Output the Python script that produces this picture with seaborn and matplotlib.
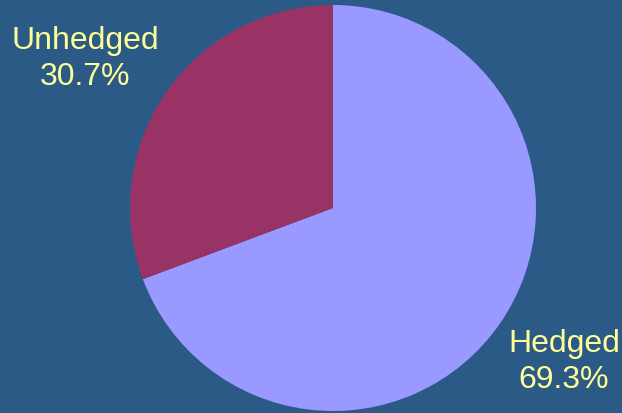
import matplotlib
matplotlib.use("Agg")
import matplotlib.pyplot as plt
import seaborn as sns

categories = ["Hedged", "Unhedged"]
shares = [69.3, 30.7]
colors = ["#9999FF", "#993366"]

sns.set_theme(style="white")
plt.rcParams['font.family'] = ['Liberation Sans', 'DejaVu Sans']

W, H = 622, 413
bg = "#2C5A86"
fig = plt.figure(figsize=(W / 100, H / 100), dpi=100, facecolor=bg)

cx, cy, r = 333, 208, 203
ax = fig.add_axes([(cx - r) / W, (H - cy - r) / H, 2 * r / W, 2 * r / H])
ax.set_facecolor("none")
ax.pie(shares, colors=sns.color_palette(colors), startangle=90, counterclock=False,
       radius=1, wedgeprops=dict(linewidth=0))
ax.set_xlim(-1, 1)
ax.set_ylim(-1, 1)
ax.set_aspect("equal")
ax.axis("off")

label_pos = {"Unhedged": (85, 59), "Hedged": (564, 362)}
for cat, val in zip(categories, shares):
    x, y = label_pos[cat]
    fig.text(x / W, 1 - y / H, f"{cat}\n{val:.1f}%", ha="center", va="center",
             color="#FFFF99", fontsize=23, linespacing=1.25)

fig.savefig("out.png", dpi=100, facecolor=bg)
